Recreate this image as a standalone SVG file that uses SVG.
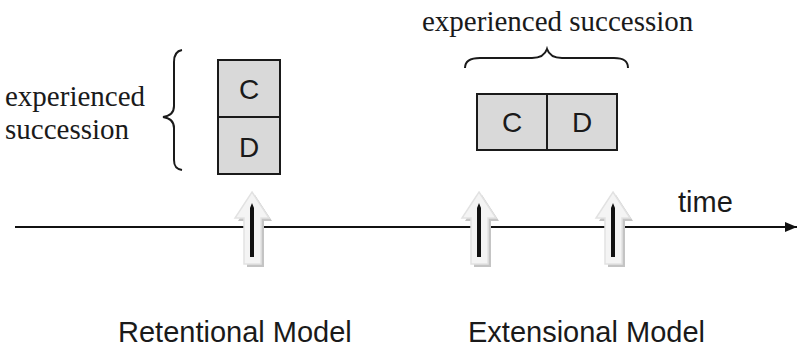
<svg xmlns="http://www.w3.org/2000/svg" xmlns:xlink="http://www.w3.org/1999/xlink" width="797" height="347" viewBox="0 0 797 347">
<style>
.serif{font-family:"Liberation Serif","Times New Roman",serif;font-size:29px;fill:#1a1a1a}
.sans{font-family:"Liberation Sans",Arial,sans-serif;font-size:29px;fill:#1a1a1a}
.box{fill:#d9d9d9;stroke:#1a1a1a;stroke-width:2}
.brace{fill:none;stroke:#1a1a1a;stroke-width:2}
.lbl{font-family:"Liberation Sans",Arial,sans-serif;font-size:28px;fill:#1a1a1a;text-anchor:middle}
</style>
<defs>
<marker id="ah" viewBox="0 0 12 10" refX="12" refY="5" markerWidth="12" markerHeight="10" markerUnits="userSpaceOnUse" orient="auto">
<path d="M0,0 L12,5 L0,10 z" fill="#111"/>
</marker>
<path id="harrow" d="M0,0 L17,26 L9,26 L9,72 L-8,72 L-8,26 L-17,26 z"/>
<g id="tick">
<use xlink:href="#harrow" transform="translate(3,3)" fill="#c4c4c4"/>
<use xlink:href="#harrow" fill="#f4f4f4" stroke="#e2e2e2" stroke-width="1.5"/>
<path d="M0,11 L2,16 L2,65 L-2,65 L-2,16 z" fill="#111"/>
</g>
</defs>
<g id="connectors">
<line x1="15" y1="227" x2="797" y2="227" stroke="#111" stroke-width="2" marker-end="url(#ah)"/>
</g>
<g id="tick-retentional"><use xlink:href="#tick" transform="translate(252,192)"/></g>
<g id="tick-ext1"><use xlink:href="#tick" transform="translate(479,192)"/></g>
<g id="tick-ext2"><use xlink:href="#tick" transform="translate(613,192)"/></g>
<g id="retentional">
<rect class="box" x="218" y="60" width="62" height="57"/>
<rect class="box" x="218" y="117" width="62" height="57"/>
<text class="lbl" x="249" y="99">C</text>
<text class="lbl" x="249" y="157">D</text>
<path class="brace" d="M182,50 C176,51 174,55 174,62 L174,106 C174,113 170,116 163,117 C170,118 174,121 174,128 L174,160 C174,166 176,169 182,170"/>
<text class="serif" x="5" y="106">experienced</text>
<text class="serif" x="5" y="139">succession</text>
</g>
<g id="extensional">
<rect class="box" x="477" y="94" width="70" height="56"/>
<rect class="box" x="547" y="94" width="70" height="56"/>
<text class="lbl" x="512" y="132">C</text>
<text class="lbl" x="582" y="132">D</text>
<path class="brace" d="M465,68 C465,61 470,58 480,58 L532,58 C540,58 545,55 547,49 C549,55 554,58 562,58 L614,58 C624,58 628,61 628,68"/>
<text class="serif" x="422" y="31">experienced succession</text>
</g>
<g id="time-label"><text class="sans" x="678" y="212">time</text></g>
<g id="labels">
<text class="sans" x="118" y="342">Retentional Model</text>
<text class="sans" x="468" y="342">Extensional Model</text>
</g>
</svg>
